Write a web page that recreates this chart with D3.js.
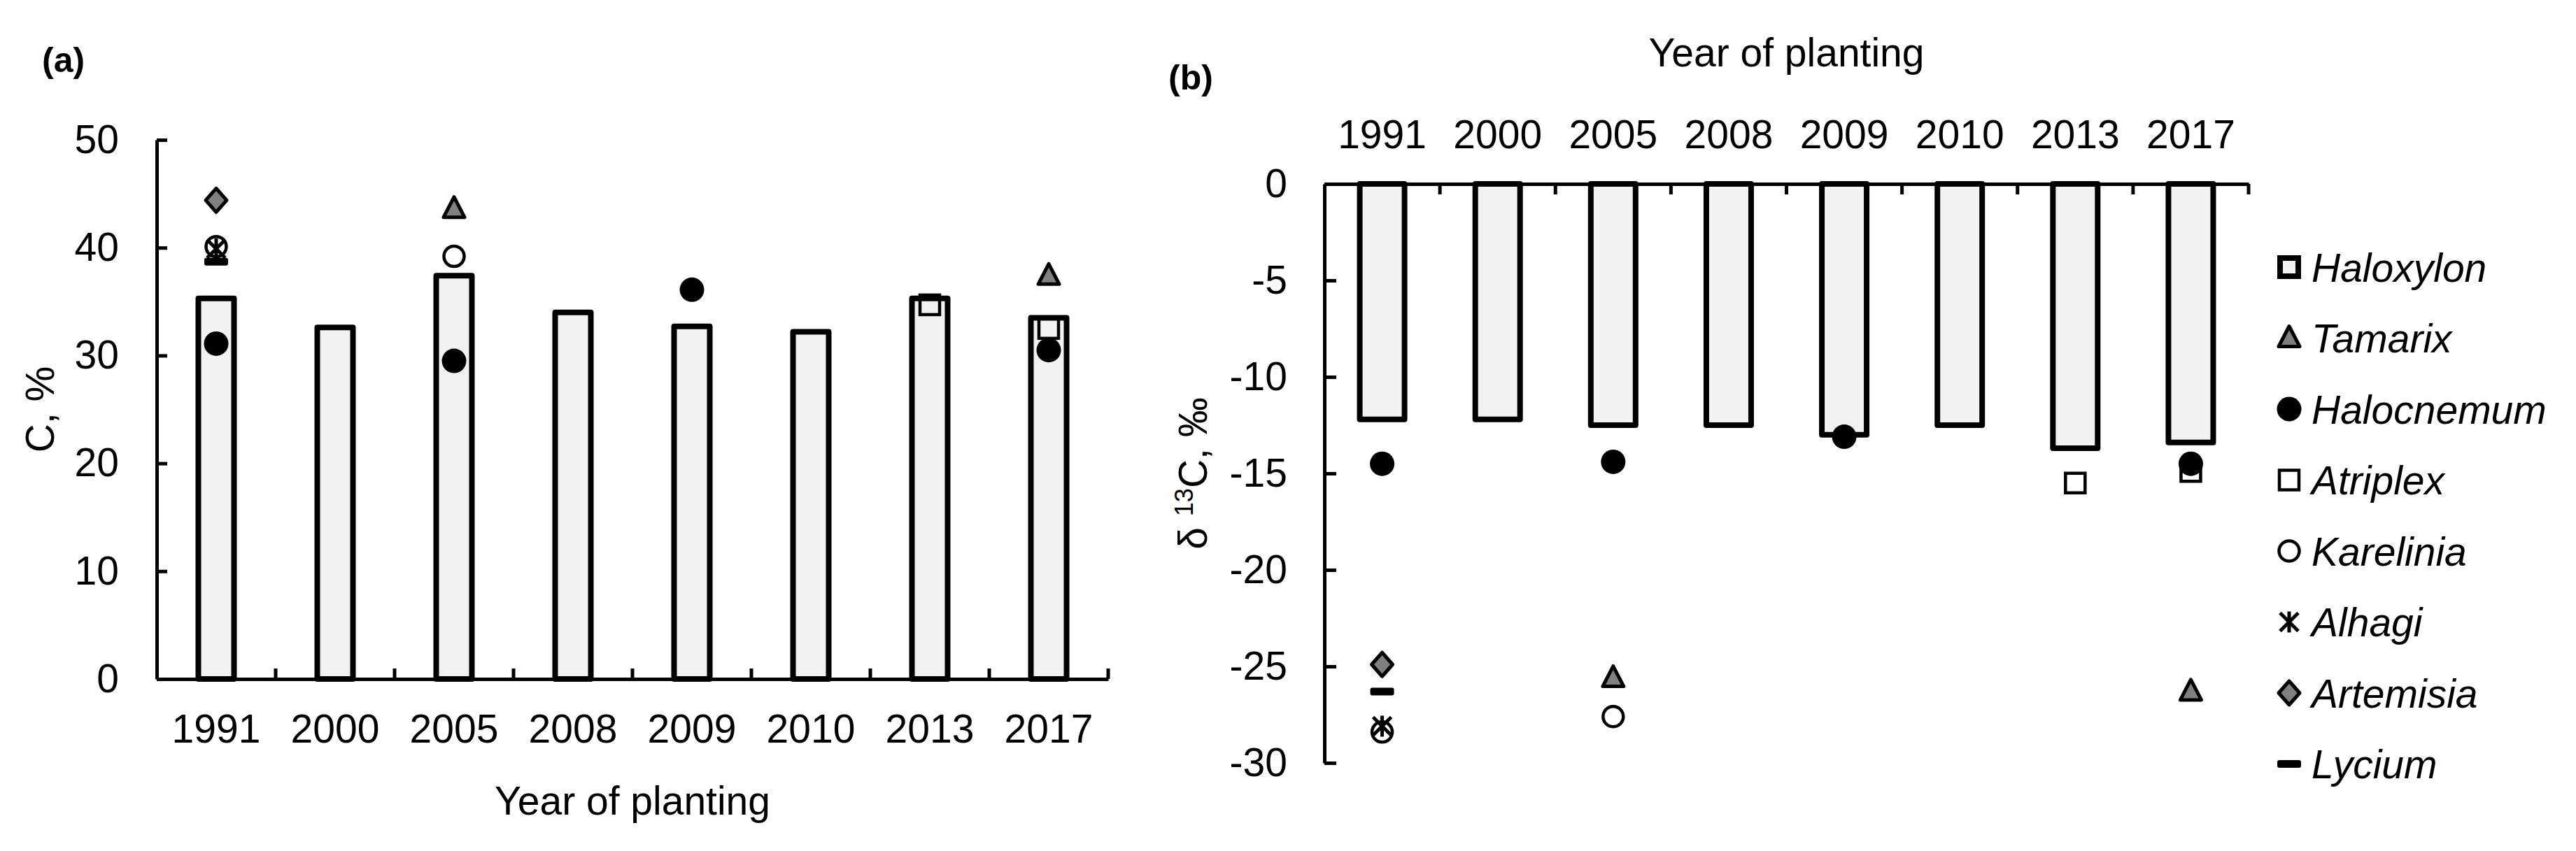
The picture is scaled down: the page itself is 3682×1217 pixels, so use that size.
<!DOCTYPE html>
<html>
<head>
<meta charset="utf-8">
<script src="https://cdn.jsdelivr.net/npm/d3@7"></script>
<style>
  html, body { margin: 0; padding: 0; background: #fff; }
  text { font-family: "Liberation Sans", Arial, sans-serif; fill: #000; }
</style>
</head>
<body>
<script>
// ---------------- DATA ----------------
const years = ["1991", "2000", "2005", "2008", "2009", "2010", "2013", "2017"];

// Panel (a): C, %
const haloxylonC  = [35.3, 32.6, 37.4, 34.0, 32.7, 32.2, 35.3, 33.5];
const tamarixC    = [null, null, 43.6, null, null, null, null, 37.4];
const halocnemumC = [31.1, null, 29.5, null, 36.1, null, null, 30.5];
const atriplexC   = [null, null, null, null, null, null, 34.7, 32.5];
const kareliniaC  = [40.1, null, 39.2, null, null, null, null, null];
const alhagiC     = [39.9, null, null, null, null, null, null, null];
const artemisiaC  = [44.4, null, null, null, null, null, null, null];
const lyciumC     = [38.7, null, null, null, null, null, null, null];

// Panel (b): delta 13C, permil
const haloxylonD  = [-12.2, -12.2, -12.5, -12.5, -13.0, -12.5, -13.7, -13.4];
const tamarixD    = [null, null, -25.6, null, null, null, null, -26.3];
const halocnemumD = [-14.5, null, -14.4, null, -13.1, null, null, -14.5];
const atriplexD   = [null, null, null, null, null, null, -15.5, -14.9];
const kareliniaD  = [-28.4, null, -27.6, null, null, null, null, null];
const alhagiD     = [-28.1, null, null, null, null, null, null, null];
const artemisiaD  = [-24.9, null, null, null, null, null, null, null];
const lyciumD     = [-26.3, null, null, null, null, null, null, null];

const species = ["Haloxylon", "Tamarix", "Halocnemum", "Atriplex", "Karelinia", "Alhagi", "Artemisia", "Lycium"];
const cTicks = [0, 10, 20, 30, 40, 50];
const dTicks = [0, -5, -10, -15, -20, -25, -30];

// ---------------- SETUP ----------------
const W = 3682, H = 1217;
const FS = 57;
const FONT = "Liberation Sans, Arial, sans-serif";
const svg = d3.select("body").append("svg")
  .attr("width", W).attr("height", H)
  .attr("viewBox", `0 0 ${W} ${H}`);
svg.append("rect").attr("width", W).attr("height", H).attr("fill", "#fff");

const GRAY = "#808080";
const BARFILL = "#f2f2f2";
const fmt = (d) => String(d); // plain hyphen-minus as in the original

function drawMarker(g, type, x, y) {
  if (type === "Tamarix") {
    g.append("path")
      .attr("d", `M${x},${y - 17} L${x + 15},${y + 12} L${x - 15},${y + 12} Z`)
      .attr("fill", GRAY).attr("stroke", "#000").attr("stroke-width", 5)
      .attr("stroke-linejoin", "round");
  } else if (type === "Halocnemum") {
    g.append("circle").attr("cx", x).attr("cy", y).attr("r", 17.5).attr("fill", "#000");
  } else if (type === "Atriplex") {
    g.append("rect").attr("x", x - 14).attr("y", y - 14).attr("width", 28).attr("height", 28)
      .attr("fill", "none").attr("stroke", "#000").attr("stroke-width", 4.5);
  } else if (type === "Karelinia") {
    g.append("circle").attr("cx", x).attr("cy", y).attr("r", 14.5)
      .attr("fill", "none").attr("stroke", "#000").attr("stroke-width", 4.5);
  } else if (type === "Alhagi") {
    const s = 13;
    g.append("path")
      .attr("d", `M${x - s},${y - s} L${x + s},${y + s} M${x + s},${y - s} L${x - s},${y + s} M${x},${y - s - 2} L${x},${y + s + 2}`)
      .attr("stroke", "#000").attr("stroke-width", 5).attr("fill", "none");
  } else if (type === "Artemisia") {
    g.append("path")
      .attr("d", `M${x},${y - 17} L${x + 15},${y} L${x},${y + 17} L${x - 15},${y} Z`)
      .attr("fill", GRAY).attr("stroke", "#000").attr("stroke-width", 5)
      .attr("stroke-linejoin", "round");
  } else if (type === "Lycium") {
    g.append("rect").attr("x", x - 17).attr("y", y - 5.5).attr("width", 34).attr("height", 11)
      .attr("rx", 3).attr("fill", "#000");
  } else if (type === "Haloxylon") {
    g.append("rect").attr("x", x - 13).attr("y", y - 13).attr("width", 26).attr("height", 26)
      .attr("fill", BARFILL).attr("stroke", "#000").attr("stroke-width", 8);
  }
}

// ---------------- PANEL (a) ----------------
const xA = d3.scaleBand().domain(years).range([224, 1584]).paddingInner(0).paddingOuter(0);
const yA = d3.scaleLinear().domain([0, 50]).range([971, 200]);
const gA = svg.append("g");

const barWA = 51;
gA.selectAll("rect.bar").data(years).enter().append("rect")
  .attr("x", (d) => xA(d) + xA.bandwidth() / 2 - barWA / 2)
  .attr("y", (d, i) => yA(haloxylonC[i]))
  .attr("width", barWA)
  .attr("height", (d, i) => yA(0) - yA(haloxylonC[i]))
  .attr("fill", BARFILL).attr("stroke", "#000").attr("stroke-width", 8)
  .attr("stroke-linejoin", "round");

const axA = gA.append("g").attr("transform", `translate(${xA.range()[0]},0)`)
  .call(d3.axisLeft(yA).tickValues(cTicks).tickFormat(fmt).tickSize(-15).tickSizeOuter(0).tickPadding(54));
axA.selectAll("path,line").attr("stroke", "#000").attr("stroke-width", 5);
axA.selectAll("text").attr("font-size", FS).attr("font-family", FONT).attr("fill", "#000");

const axAx = gA.append("g").attr("transform", `translate(0,${yA(0)})`)
  .call(d3.axisBottom(xA).tickSize(0).tickPadding(51));
axAx.selectAll("path").attr("stroke", "#000").attr("stroke-width", 5);
axAx.selectAll("text").attr("font-size", FS).attr("font-family", FONT).attr("fill", "#000");
const boundsA = years.map((d) => xA(d)).concat([xA.range()[1]]).slice(1);
gA.selectAll("line.xt").data(boundsA).enter().append("line")
  .attr("x1", (d) => d).attr("x2", (d) => d)
  .attr("y1", yA(0)).attr("y2", yA(0) - 15)
  .attr("stroke", "#000").attr("stroke-width", 5);

const seriesA = [
  ["Tamarix", tamarixC], ["Halocnemum", halocnemumC], ["Atriplex", atriplexC],
  ["Karelinia", kareliniaC], ["Alhagi", alhagiC], ["Artemisia", artemisiaC], ["Lycium", lyciumC]
];
seriesA.forEach(([name, vals]) => {
  vals.forEach((v, i) => {
    if (v === null) return;
    drawMarker(gA, name, xA(years[i]) + xA.bandwidth() / 2, yA(v));
  });
});

gA.append("text").attr("x", (xA.range()[0] + xA.range()[1]) / 2).attr("y", 1165)
  .attr("text-anchor", "middle").attr("font-size", FS).text("Year of planting");
gA.append("text").attr("transform", `translate(77,${(yA(0) + yA(50)) / 2}) rotate(-90)`)
  .attr("text-anchor", "middle").attr("font-size", FS).text("C, %");
gA.append("text").attr("x", 60).attr("y", 103).attr("font-size", 50).attr("font-weight", "bold").text("(a)");

// ---------------- PANEL (b) ----------------
const xB = d3.scaleBand().domain(years).range([1893, 3214]).paddingInner(0).paddingOuter(0);
const yB = d3.scaleLinear().domain([-30, 0]).range([1091, 263]);
const gB = svg.append("g");

const barWB = 64;
gB.selectAll("rect.bar").data(years).enter().append("rect")
  .attr("x", (d) => xB(d) + xB.bandwidth() / 2 - barWB / 2)
  .attr("y", yB(0))
  .attr("width", barWB)
  .attr("height", (d, i) => yB(haloxylonD[i]) - yB(0))
  .attr("fill", BARFILL).attr("stroke", "#000").attr("stroke-width", 8)
  .attr("stroke-linejoin", "round");

const axB = gB.append("g").attr("transform", `translate(${xB.range()[0]},0)`)
  .call(d3.axisLeft(yB).tickValues(dTicks).tickFormat(fmt).tickSize(-17).tickSizeOuter(0).tickPadding(53));
axB.selectAll("path,line").attr("stroke", "#000").attr("stroke-width", 5);
axB.selectAll("text").attr("font-size", FS).attr("font-family", FONT).attr("fill", "#000");

const axBx = gB.append("g").attr("transform", `translate(0,${yB(0)})`)
  .call(d3.axisTop(xB).tickSize(0).tickPadding(51));
axBx.selectAll("path").attr("stroke", "#000").attr("stroke-width", 5);
axBx.selectAll("text").attr("font-size", FS).attr("font-family", FONT).attr("fill", "#000");
const boundsB = years.map((d) => xB(d)).concat([xB.range()[1]]).slice(1);
gB.selectAll("line.xt").data(boundsB).enter().append("line")
  .attr("x1", (d) => d).attr("x2", (d) => d)
  .attr("y1", yB(0)).attr("y2", yB(0) + 15)
  .attr("stroke", "#000").attr("stroke-width", 5);

const seriesB = [
  ["Tamarix", tamarixD], ["Halocnemum", halocnemumD], ["Atriplex", atriplexD],
  ["Karelinia", kareliniaD], ["Alhagi", alhagiD], ["Artemisia", artemisiaD], ["Lycium", lyciumD]
];
seriesB.forEach(([name, vals]) => {
  vals.forEach((v, i) => {
    if (v === null) return;
    drawMarker(gB, name, xB(years[i]) + xB.bandwidth() / 2, yB(v));
  });
});

gB.append("text").attr("x", (xB.range()[0] + xB.range()[1]) / 2).attr("y", 95)
  .attr("text-anchor", "middle").attr("font-size", FS).text("Year of planting");
const yl = gB.append("text").attr("transform", `translate(1725,${(yB(0) + yB(-30)) / 2}) rotate(-90)`)
  .attr("text-anchor", "middle").attr("font-size", FS);
yl.append("tspan").text("δ ");
yl.append("tspan").attr("font-size", 36).attr("dy", -20).text("13");
yl.append("tspan").attr("dy", 20).text("C, ‰");
gB.append("text").attr("x", 1670).attr("y", 128).attr("font-size", 50).attr("font-weight", "bold").text("(b)");

// legend
const leg = svg.append("g");
species.forEach((name, i) => {
  const cy = 382 + i * 101.5;
  drawMarker(leg, name, 3272, cy);
  leg.append("text").attr("x", 3304).attr("y", cy).attr("dy", "0.36em")
    .attr("font-size", FS).attr("font-style", "italic").text(name);
});
</script>
</body>
</html>
